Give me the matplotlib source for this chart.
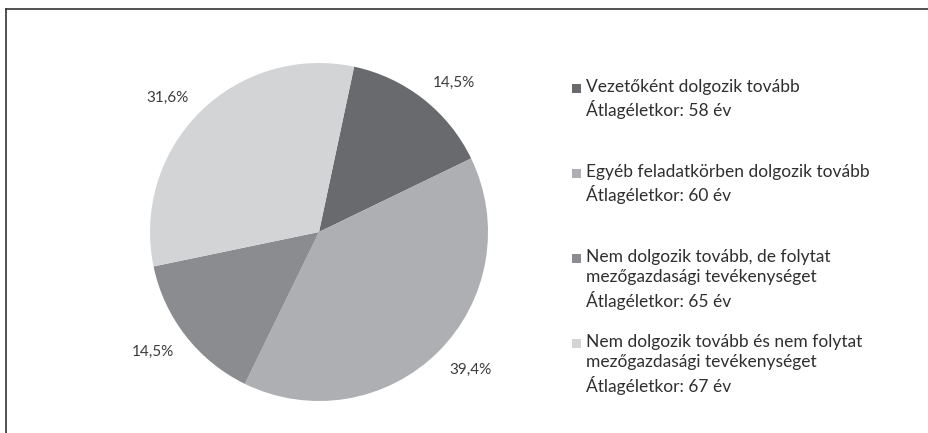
import matplotlib.pyplot as plt
from matplotlib.patches import Rectangle
from matplotlib.lines import Line2D

# Pie data
shares = [14.5, 39.4, 14.5, 31.6]
share_labels = ['14,5%', '39,4%', '14,5%', '31,6%']
categories = [
    'Vezetőként dolgozik tovább\nÁtlagéletkor: 58 év',
    'Egyéb feladatkörben dolgozik tovább\nÁtlagéletkor: 60 év',
    'Nem dolgozik tovább, de folytat\nmezőgazdasági tevékenységet\nÁtlagéletkor: 65 év',
    'Nem dolgozik tovább és nem folytat\nmezőgazdasági tevékenységet\nÁtlagéletkor: 67 év',
]
colors = ['#696a6e', '#aeafb2', '#8b8c90', '#d3d4d6']

plt.rcParams['font.family'] = ['Lato', 'DejaVu Sans']

W, H = 929, 433
fig = plt.figure(figsize=(W / 100, H / 100), dpi=100)

# pie axes: centre ~ (319, 232), radius ~169 px
r = 169
cx, cy = 319, 232
ax = fig.add_axes([(cx - 1.3 * r) / W, 1 - (cy + 1.3 * r) / H, 2.6 * r / W, 2.6 * r / H])
wedges, texts = ax.pie(shares, colors=colors, startangle=78, counterclock=False,
                       labels=share_labels, labeldistance=1.09,
                       textprops=dict(fontsize=11, color='#3c3c3c'),
                       wedgeprops=dict(linewidth=0))
# anchor each label by its nearest corner, like an "outside end" label
for t in texts:
    x, y = t.get_position()
    t.set_ha('left' if x > 0 else 'right')
    t.set_va('baseline' if y > 0 else 'top')
ax.set_xlim(-1.3, 1.3)
ax.set_ylim(-1.3, 1.3)
ax.set_aspect('equal')
ax.axis('off')

# legend drawn by hand so the marker sits on the first line
x_box, x_text = 572, 586
y0, step = 94, 85
for i, (lab, c) in enumerate(zip(categories, colors)):
    yb = y0 + i * step
    fig.add_artist(Rectangle((x_box / W, 1 - (yb - 1) / H), 9 / W, 9 / H,
                             facecolor=c, edgecolor='none', transform=fig.transFigure))
    fig.text(x_text / W, 1 - (yb - 15) / H, lab, fontsize=12.5, color='#2f2f2f',
             va='top', ha='left', linespacing=1.33)

# frame lines (top and left)
fig.add_artist(Line2D([6 / W, 1], [1 - 8.5 / H, 1 - 8.5 / H], color='#333333', lw=1.2))
fig.add_artist(Line2D([6 / W, 6 / W], [0, 1 - 8.5 / H], color='#333333', lw=1.2))

fig.savefig('out.png', dpi=100, facecolor='white')
